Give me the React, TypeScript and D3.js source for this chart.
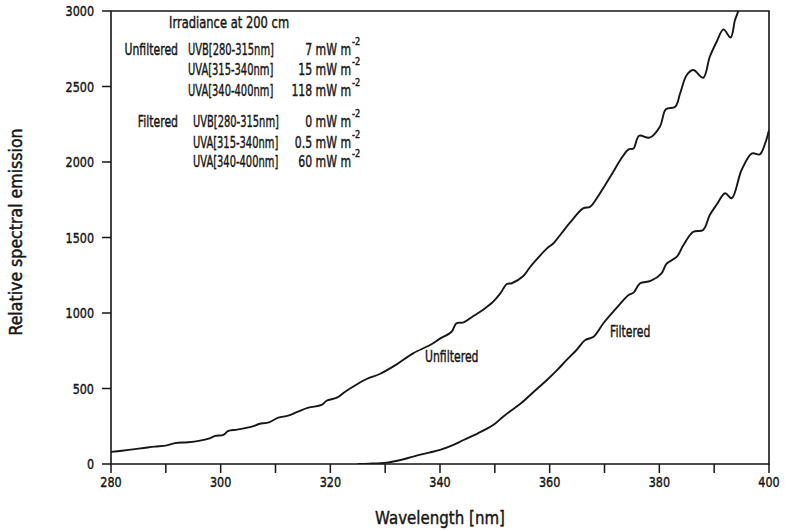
import React from 'react';
import * as d3 from 'd3';

// Relative spectral emission of the lamp, unfiltered and filtered [nm, value]
const unfiltered: [number, number][] = [
  [280, 80], [282, 88], [284, 97], [286, 106], [288, 115], [290, 122], [291.7, 138],
  [294, 144], [296, 153], [298, 170], [299, 186], [300.5, 193], [301.4, 219], [303, 228],
  [305.7, 247], [307, 265], [308.8, 276], [310.5, 307], [312.3, 320], [314, 345],
  [316, 373], [318.4, 391], [319.3, 419], [321.2, 439], [322.7, 479], [324.5, 520],
  [326.6, 563], [329, 596], [332.1, 660], [335.1, 733], [338.2, 788], [340, 830],
  [342.1, 876], [343, 932], [344.3, 938], [346.1, 980], [348, 1025], [349.7, 1075],
  [351, 1130], [352.2, 1192], [353.1, 1197], [355.2, 1245], [356.4, 1303], [358, 1370],
  [359.5, 1428], [360.7, 1462], [362.2, 1530], [363.7, 1598], [366.1, 1693], [367.4, 1704],
  [368.6, 1760], [370, 1840], [371.6, 1935], [373, 2020], [374.4, 2084], [375.3, 2090],
  [376.3, 2174], [378.2, 2161], [380.1, 2234], [381.2, 2349], [382.9, 2366], [383.8, 2455],
  [385, 2576], [386.2, 2609], [388, 2558], [389.2, 2697], [390.5, 2800], [391.7, 2878],
  [393, 2825], [393.8, 2940], [394.4, 3000], [395, 3070],
];

const filtered: [number, number][] = [
  [325, 0], [327, 2], [330.3, 9], [333, 28], [335.1, 49], [338, 75], [340, 93],
  [342, 120], [344.3, 159], [347, 205], [349.7, 258], [351.5, 313], [353, 355],
  [354.6, 397], [357, 475], [359.5, 556], [361.3, 620], [363.1, 689], [364.9, 755],
  [366.5, 821], [368, 843], [369.8, 932], [372, 1025], [374.4, 1119], [375.3, 1135],
  [376.5, 1197], [378.4, 1212], [380.4, 1263], [381.3, 1325], [383.2, 1373],
  [384.4, 1450], [386.2, 1538], [388, 1550], [389.2, 1649], [390.5, 1720], [392, 1793],
  [393.2, 1760], [395, 1947], [396.9, 2057], [398.3, 2050], [399.3, 2123], [400, 2212],
];

const X_TICKS = [280, 290, 300, 310, 320, 330, 340, 350, 360, 370, 380, 390, 400];
const X_TICK_LABELS = [280, 300, 320, 340, 360, 380, 400];
const Y_TICKS = [0, 500, 1000, 1500, 2000, 2500, 3000];

const IRRADIANCE_TITLE = 'Irradiance at 200 cm';
const IRRADIANCE_ROWS = [
  { group: 'Unfiltered', band: 'UVB[280-315nm]', value: '7' },
  { group: '', band: 'UVA[315-340nm]', value: '15' },
  { group: '', band: 'UVA[340-400nm]', value: '118' },
  { group: 'Filtered', band: 'UVB[280-315nm]', value: '0' },
  { group: '', band: 'UVA[315-340nm]', value: '0.5' },
  { group: '', band: 'UVA[340-400nm]', value: '60' },
];

const W = 785;
const H = 530;
const INK = '#161616';
const FONT = 'DejaVu Sans, sans-serif';

type TxtProps = {
  x: number;
  y: number;
  sx?: number;
  size?: number;
  anchor?: 'start' | 'middle' | 'end';
  rotate?: number;
  children: React.ReactNode;
};

// Narrow plotter-style lettering: regular glyphs squeezed horizontally
function Txt({ x, y, sx = 0.7, size = 15, anchor = 'start', rotate = 0, children }: TxtProps) {
  return (
    <text
      transform={`translate(${x},${y}) rotate(${rotate}) scale(${sx},1)`}
      textAnchor={anchor}
      fontSize={size}
      fontFamily={FONT}
      fill={INK}
      stroke={INK}
      strokeWidth={0.45}
    >
      {children}
    </text>
  );
}

export default function App() {
  const x = d3.scaleLinear().domain([280, 400]).range([111, 769]);
  const y = d3.scaleLinear().domain([0, 3000]).range([464, 11]);

  const line = d3
    .line<[number, number]>()
    .x((d) => x(d[0]))
    .y((d) => y(d[1]))
    .curve(d3.curveCatmullRom.alpha(0.5));

  const rowBaselines = [55, 75, 96, 127, 148, 167];

  return (
    <svg
      width={W}
      height={H}
      viewBox={`0 0 ${W} ${H}`}
      style={{ position: 'absolute', left: 0, top: 0, background: '#fff' }}
    >
      <defs>
        <clipPath id="plot-area">
          <rect x={x(280)} y={y(3000)} width={x(400) - x(280)} height={y(0) - y(3000)} />
        </clipPath>
      </defs>
      <rect width={W} height={H} fill="#fff" />

      {/* frame */}
      <path
        d={`M${x(280)},${y(0)} V${y(3000)} H${x(400)} V${y(0)} Z`}
        fill="none"
        stroke={INK}
        strokeWidth={1.6}
      />

      {/* x ticks */}
      {X_TICKS.map((t) => (
        <line key={`xt${t}`} x1={x(t)} x2={x(t)} y1={y(0)} y2={y(0) + 9} stroke={INK} strokeWidth={1.5} />
      ))}
      {X_TICK_LABELS.map((t) => (
        <Txt key={`xl${t}`} x={x(t)} y={y(0) + 23} sx={0.8} size={14} anchor="middle">
          {t}
        </Txt>
      ))}

      {/* y ticks */}
      {Y_TICKS.map((t) => (
        <line key={`yt${t}`} x1={x(280) - 9} x2={x(280)} y1={y(t)} y2={y(t)} stroke={INK} strokeWidth={1.5} />
      ))}
      {Y_TICKS.map((t) => (
        <Txt key={`yl${t}`} x={94} y={y(t) + 5} sx={0.8} size={14} anchor="end">
          {t}
        </Txt>
      ))}

      {/* axis titles */}
      <Txt x={440} y={524} sx={0.86} size={17.5} anchor="middle">
        Wavelength [nm]
      </Txt>
      <Txt x={22} y={232} sx={0.93} size={17} anchor="middle" rotate={-90}>
        Relative spectral emission
      </Txt>

      {/* spectra */}
      <g clipPath="url(#plot-area)" fill="none" stroke={INK} strokeWidth={1.9} strokeLinejoin="round">
        <path d={line(unfiltered) ?? ''} />
        <path d={line(filtered) ?? ''} />
      </g>

      {/* curve labels */}
      <Txt x={425} y={362} sx={0.68} size={16}>
        Unfiltered
      </Txt>
      <Txt x={610} y={337} sx={0.68} size={16}>
        Filtered
      </Txt>

      {/* irradiance summary */}
      <Txt x={169} y={28} sx={0.72} size={16}>
        {IRRADIANCE_TITLE}
      </Txt>
      {IRRADIANCE_ROWS.map((r, i) => {
        const by = rowBaselines[i];
        return (
          <g key={`row${i}`}>
            {r.group && (
              <Txt x={178} y={by} sx={0.68} size={16} anchor="end">
                {r.group}
              </Txt>
            )}
            <Txt x={i < 3 ? 188 : 193} y={by} sx={0.62} size={16}>
              {r.band}
            </Txt>
            <Txt x={351} y={by} sx={0.68} size={16} anchor="end">
              {`${r.value} mW m`}
            </Txt>
            <Txt x={352} y={by - 10} sx={0.75} size={11}>
              -2
            </Txt>
          </g>
        );
      })}
    </svg>
  );
}
